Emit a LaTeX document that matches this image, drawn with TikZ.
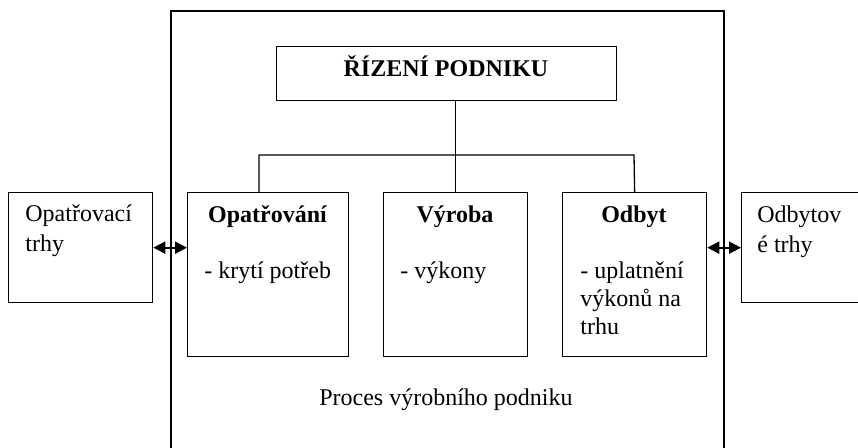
\documentclass[tikz,border=0pt]{standalone}
\usepackage{fontspec}
\setmainfont{Liberation Serif}
\usetikzlibrary{arrows.meta}
\begin{document}
\begin{tikzpicture}[x=0.5pt,y=-0.5pt,
  box/.style={draw, line width=0.65pt, anchor=north west, inner sep=0pt},
  outerbox/.style={draw, line width=1pt, anchor=north west, inner sep=0pt},
  txt/.style={font=\fontsize{12}{13.8}\selectfont, inner sep=0pt, anchor=base west, align=left},
  sidetxt/.style={font=\fontsize{12}{14.75}\selectfont, inner sep=0pt, anchor=base west, align=left},
  ttl/.style={font=\fontsize{12}{13.8}\selectfont\bfseries, inner sep=0pt, anchor=base},
  plain/.style={font=\fontsize{12}{13.8}\selectfont, inner sep=0pt, anchor=base},
  link/.style={line width=0.65pt},
  dbl/.style={line width=1pt, {Triangle[length=6pt,width=6pt]}-{Triangle[length=6pt,width=6pt]}}
]
\clip (0,0) rectangle (858,448);
% outer process box
\node[outerbox, minimum width=276.5pt, minimum height=240pt] (outer) at (170,10) {};
% boxes
\node[box, minimum width=170pt, minimum height=27pt] (top) at (276,46) {};
\node[box, minimum width=72pt, minimum height=55pt] (lt) at (8,192) {};
\node[box, minimum width=80.5pt, minimum height=82pt] (b1) at (187,192) {};
\node[box, minimum width=72pt, minimum height=82pt] (b2) at (383,192) {};
\node[box, minimum width=72pt, minimum height=82pt] (b3) at (562,192) {};
\node[box, minimum width=80pt, minimum height=55pt] (rt) at (741,192) {};
% texts (base anchor of a multi-line node = baseline of its last line)
\node[ttl] (toptxt) at (446,77) {ŘÍZENÍ PODNIKU};
\node[ttl] (t1) at (267.5,223) {Opatřování};
\node[ttl] (t2) at (455,223) {Výroba};
\node[ttl] (t3) at (634,223) {Odbyt};
\node[txt] (d1) at (204,279) {- krytí potřeb};
\node[txt] (d2) at (400,279) {- výkony};
\node[txt] (d3) at (580,334.2) {- uplatnění\\výkonů na\\trhu};
\node[sidetxt] (ltxt) at (25,251.5) {Opatřovací\\trhy};
\node[sidetxt] (rtxt) at (757,252.5) {Odbytov\\é trhy};
\node[plain] (proc) at (446,406) {Proces výrobního podniku};
% connectors
\coordinate (jl) at (259,155);
\coordinate (jr) at (634,155);
\draw[link] (top.south -| b2.north) -- (b2.north);
\draw[link] (b1.north -| jl) -- (jl) -- (jr) -- (b3.north);
\draw[dbl] (lt.east) -- (b1.west |- lt.east);
\draw[dbl] (b3.east |- rt.west) -- (rt.west);
\end{tikzpicture}
\end{document}
